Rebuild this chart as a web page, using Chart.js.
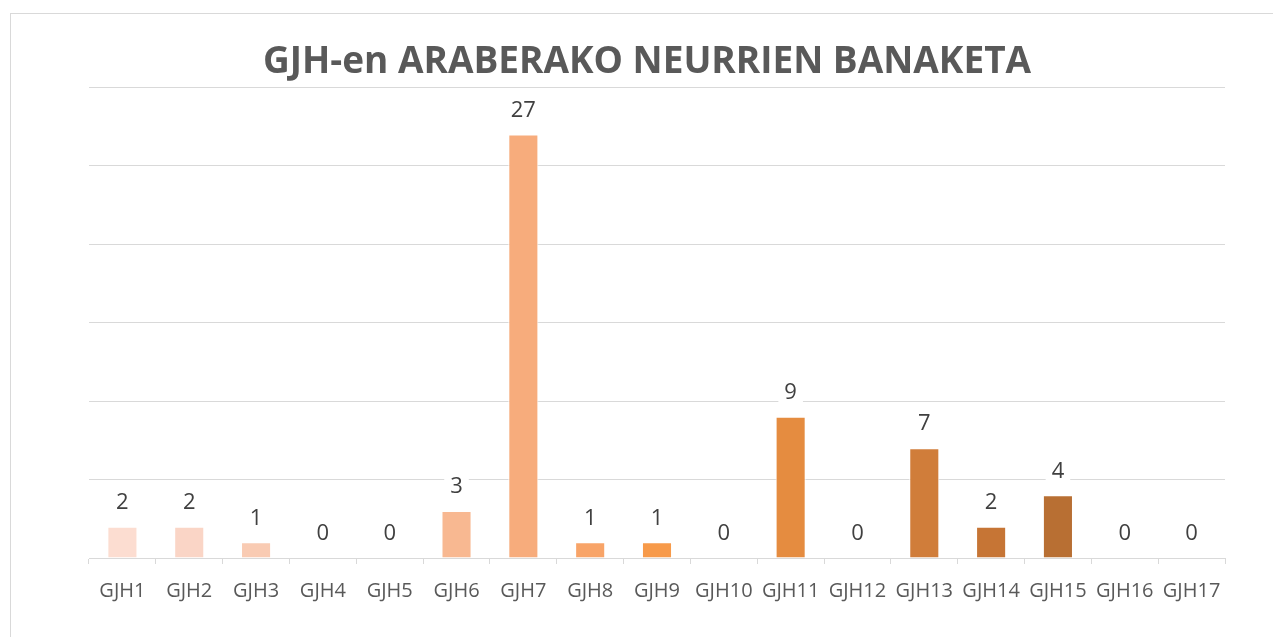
<!DOCTYPE html>
<html>
<head>
<meta charset="utf-8">
<script src="https://cdn.jsdelivr.net/npm/chart.js@4/dist/chart.umd.min.js"></script>
<style>
  body { margin: 0; background: #fff; }
  #frame {
    position: absolute; left: 10px; top: 13px; width: 1270px; height: 640px;
    border: 1px solid #d9d9d9; box-sizing: border-box;
  }
  #wrap { position: absolute; left: 0; top: 0; width: 1273px; height: 637px; }
</style>
</head>
<body>
<div id="frame"></div>
<div id="wrap"><canvas id="myChart"></canvas></div>
<script>
let labels = ['GJH1', 'GJH2', 'GJH3', 'GJH4', 'GJH5', 'GJH6', 'GJH7', 'GJH8', 'GJH9',
  'GJH10', 'GJH11', 'GJH12', 'GJH13', 'GJH14', 'GJH15', 'GJH16', 'GJH17']
let values = [2, 2, 1, 0, 0, 3, 27, 1, 1, 0, 9, 0, 7, 2, 4, 0, 0]
let colors = ['#fcddd1', '#fad5c6', '#f9cbb3', '#f8c2a3', '#f8bd9a', '#f8b891', '#f7ac7c',
  '#f8a468', '#f79a4a', '#ee9345', '#e58c40', '#da843d', '#d07d3a', '#c67535', '#b86f33',
  '#b06a31', '#a8652f']
let title = 'GJH-en ARABERAKO NEURRIEN BANAKETA'

const valueLabels = {
  id: 'valueLabels',
  afterDatasetsDraw(chart) {
    const ctx = chart.ctx
    const meta = chart.getDatasetMeta(0)
    ctx.save()
    ctx.font = '22px "Open Sans", sans-serif'
    ctx.textAlign = 'center'
    ctx.textBaseline = 'middle'
    meta.data.forEach((bar, i) => {
      const txt = String(values[i])
      const y = bar.y - 24
      const w = ctx.measureText(txt).width
      ctx.fillStyle = '#ffffff'
      ctx.fillRect(bar.x - w / 2 - 6, y - 14, w + 12, 28)
      ctx.fillStyle = '#404040'
      ctx.fillText(txt, bar.x, y)
    })
    ctx.restore()
  },
}

const config = {
  type: 'bar',
  data: {
    labels: labels,
    datasets: [
      {
        data: values,
        backgroundColor: colors,
        borderColor: '#ffffff',
        borderWidth: 1,
        barPercentage: 0.45,
        categoryPercentage: 1,
      },
    ],
  },
  options: {
    responsive: true,
    maintainAspectRatio: false,
    animation: false,
    layout: { padding: { left: 69, right: 48, top: 0, bottom: 19 } },
    plugins: {
      legend: { display: false },
      tooltip: { enabled: false },
      title: {
        display: true,
        text: title,
        color: '#595959',
        font: { family: '"Open Sans", sans-serif', size: 37, weight: 'bold' },
        padding: { top: 40, bottom: 3 },
      },
    },
    scales: {
      x: {
        grid: {
          offset: true,
          drawOnChartArea: false,
          drawTicks: true,
          tickLength: 6,
          color: '#d9d9d9',
        },
        border: { color: '#d9d9d9', width: 1 },
        ticks: {
          color: '#595959',
          font: { family: '"Open Sans", sans-serif', size: 20 },
          padding: 15,
          maxRotation: 0,
          autoSkip: false,
        },
      },
      y: {
        min: 0,
        max: 30,
        ticks: { display: false, stepSize: 5 },
        grid: { color: '#d9d9d9', drawTicks: false, lineWidth: 1 },
        border: { display: false },
        afterFit: (scale) => {
          scale.width = 20
        },
      },
    },
  },
  plugins: [valueLabels],
}

var myChart = new Chart(document.getElementById('myChart'), config)
</script>
</body>
</html>
